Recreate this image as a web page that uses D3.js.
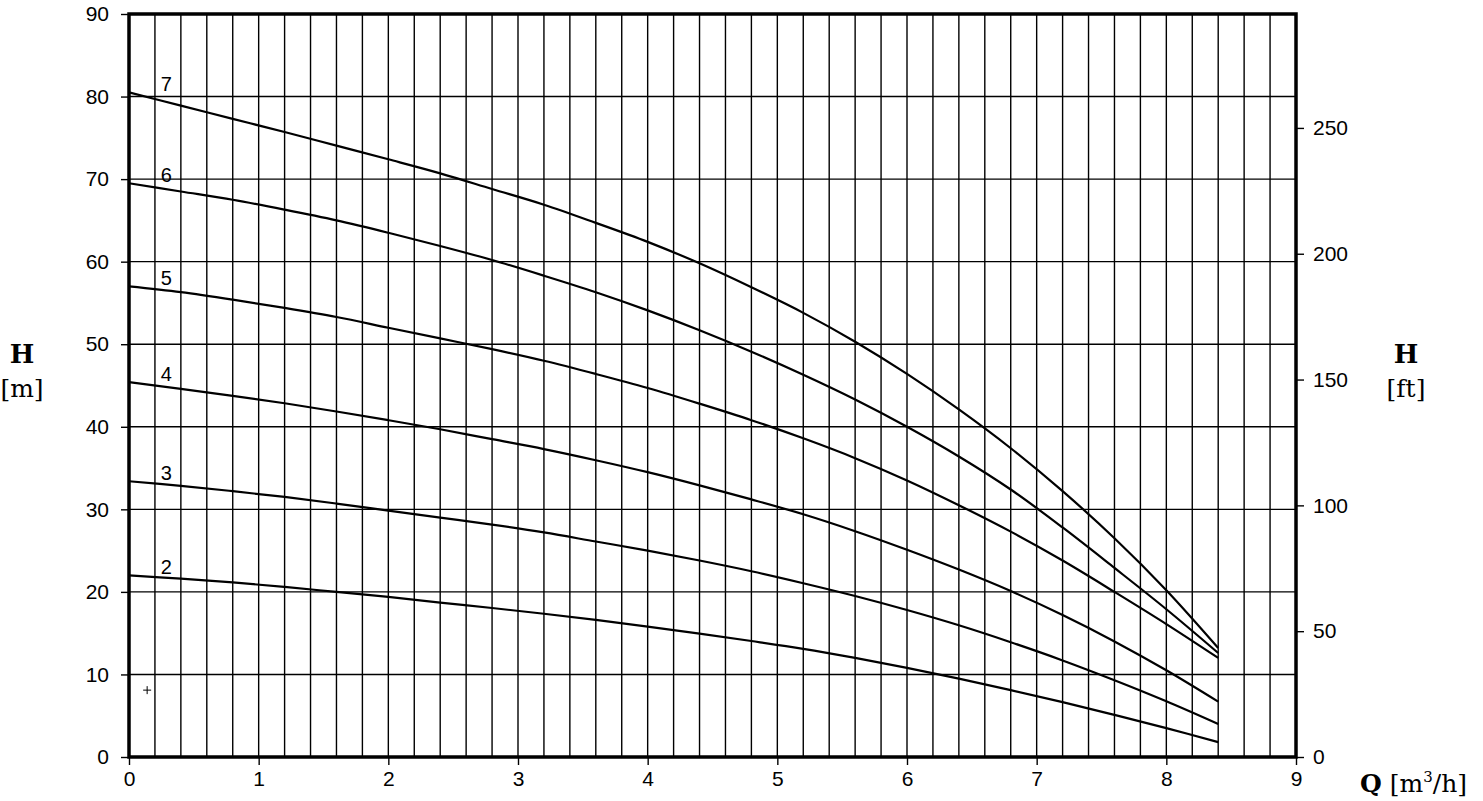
<!DOCTYPE html>
<html>
<head>
<meta charset="utf-8">
<script src="https://cdn.jsdelivr.net/npm/d3@7"></script>
<style>
  html, body { margin: 0; padding: 0; background: #fff; }
  svg { display: block; }
</style>
</head>
<body>
<svg id="chart" width="1483" height="801"></svg>
<script>
// ---- data ----
const flowQ = [0, 0.4, 0.8, 1.2, 1.6, 2.0, 2.4, 2.8, 3.2, 3.6, 4.0, 4.4, 4.8, 5.2, 5.6, 6.0, 6.4, 6.8, 7.2, 7.6, 8.0, 8.4];
const stage7 = [80.5, 78.9, 77.3, 75.7, 74.05, 72.4, 70.7, 68.8, 66.9, 64.7, 62.4, 59.8, 56.9, 53.8, 50.3, 46.4, 42.1, 37.4, 32.2, 26.5, 20.2, 13.2];
const stage6 = [69.5, 68.5, 67.5, 66.3, 65.0, 63.5, 61.9, 60.2, 58.3, 56.3, 54.1, 51.7, 49.1, 46.3, 43.3, 40.0, 36.4, 32.4, 27.8, 22.9, 17.9, 12.6];
const stage5 = [57.0, 56.3, 55.4, 54.4, 53.3, 52.0, 50.7, 49.4, 48.0, 46.4, 44.7, 42.8, 40.8, 38.6, 36.2, 33.5, 30.5, 27.3, 23.8, 20.0, 16.1, 12.0];
const stage4 = [45.4, 44.6, 43.75, 42.85, 41.85, 40.8, 39.7, 38.5, 37.3, 35.95, 34.5, 32.9, 31.2, 29.4, 27.35, 25.1, 22.7, 20.1, 17.2, 14.0, 10.5, 6.7];
const stage3 = [33.4, 32.85, 32.2, 31.5, 30.7, 29.85, 29.0, 28.15, 27.2, 26.1, 25.0, 23.8, 22.5, 21.05, 19.5, 17.8, 15.95, 13.9, 11.7, 9.3, 6.75, 4.0];
const stage2 = [22.0, 21.6, 21.15, 20.6, 20.0, 19.4, 18.7, 18.05, 17.35, 16.6, 15.8, 14.95, 14.05, 13.1, 12.0, 10.8, 9.5, 8.1, 6.65, 5.1, 3.5, 1.8];
const curveLabels = ["7", "6", "5", "4", "3", "2"];
const xTicks = [0, 1, 2, 3, 4, 5, 6, 7, 8, 9];
const yTicksM = [0, 10, 20, 30, 40, 50, 60, 70, 80, 90];
const yTicksFt = [0, 50, 100, 150, 200, 250];
const markerPoint = [0.14, 8.1];

const series = [stage7, stage6, stage5, stage4, stage3, stage2];

// ---- layout ----
const svg = d3.select("#chart");
const W = 1483, H = 801;
const m = { left: 129, top: 14, right: 187, bottom: 44 };
const x = d3.scaleLinear().domain([0, 9]).range([m.left, W - m.right]);
const y = d3.scaleLinear().domain([0, 90]).range([H - m.bottom, m.top]);
const FT = 3.28084;
const yFt = d3.scaleLinear().domain([0, 90 * FT]).range([H - m.bottom, m.top]);

const tickFont = "'Liberation Sans', Arial, sans-serif";
const titleFont = "'DejaVu Serif', 'Liberation Serif', serif";

// grid
const grid = svg.append("g").attr("stroke", "#000").attr("stroke-width", 1.4);
d3.range(1, 45).map(i => i * 0.2).forEach(v => {
  grid.append("line").attr("x1", x(v)).attr("x2", x(v)).attr("y1", y(0)).attr("y2", y(90));
});
yTicksM.slice(1, -1).forEach(v => {
  grid.append("line").attr("x1", x(0)).attr("x2", x(9)).attr("y1", y(v)).attr("y2", y(v));
});

// axes
const axisStyle = g => {
  g.select(".domain").remove();
  g.selectAll(".tick line").attr("stroke", "#000").attr("stroke-width", 1.4);
  g.selectAll(".tick text").attr("font-family", tickFont).attr("font-size", 21).attr("fill", "#000");
};
svg.append("g").attr("transform", `translate(${m.left},0)`)
  .call(d3.axisLeft(y).tickValues(yTicksM).tickSize(8).tickPadding(12).tickFormat(d3.format("d")))
  .call(axisStyle);
svg.append("g").attr("transform", `translate(${W - m.right},0)`)
  .call(d3.axisRight(yFt).tickValues(yTicksFt).tickSize(8).tickPadding(9).tickFormat(d3.format("d")))
  .call(axisStyle);
svg.append("g").attr("transform", `translate(0,${H - m.bottom})`)
  .call(d3.axisBottom(x).tickValues(xTicks).tickSize(8).tickPadding(6).tickFormat(d3.format("d")))
  .call(axisStyle);

// frame
svg.append("rect").attr("x", x(0)).attr("y", y(90)).attr("width", x(9) - x(0)).attr("height", y(0) - y(90))
  .attr("fill", "none").attr("stroke", "#000").attr("stroke-width", 3.5);

// curves
const line = d3.line().x((d, i) => x(flowQ[i])).y(d => y(d)).curve(d3.curveCatmullRom.alpha(0.5));
series.forEach((s, k) => {
  svg.append("path").attr("d", line(s)).attr("fill", "none").attr("stroke", "#000").attr("stroke-width", 2.2);
  svg.append("text").attr("x", x(0.245)).attr("y", y(s[0]) - 1)
    .attr("font-family", tickFont).attr("font-size", 20).attr("fill", "#000").text(curveLabels[k]);
});

// small cross marker
const mx = x(markerPoint[0]), my = y(markerPoint[1]);
svg.append("path").attr("d", `M${mx - 4},${my}H${mx + 4}M${mx},${my - 4}V${my + 4}`)
  .attr("stroke", "#000").attr("stroke-width", 1);

// axis titles
const t1 = svg.append("text").attr("font-family", titleFont).attr("fill", "#000").attr("text-anchor", "middle");
t1.append("tspan").attr("x", 22).attr("y", 363).attr("font-size", 26).attr("font-weight", "bold").text("H");
t1.append("tspan").attr("x", 22).attr("y", 397).attr("font-size", 25).text("[m]");

const t2 = svg.append("text").attr("font-family", titleFont).attr("fill", "#000").attr("text-anchor", "middle");
t2.append("tspan").attr("x", 1406).attr("y", 363).attr("font-size", 26).attr("font-weight", "bold").text("H");
t2.append("tspan").attr("x", 1406).attr("y", 397).attr("font-size", 25).text("[ft]");

const t3 = svg.append("text").attr("font-family", titleFont).attr("fill", "#000").attr("x", 1360).attr("y", 792).attr("font-size", 25);
t3.append("tspan").attr("font-weight", "bold").text("Q");
t3.append("tspan").text(" [m");
t3.append("tspan").attr("font-size", 15).attr("dy", -10).text("3");
t3.append("tspan").attr("dy", 10).text("/h]");
</script>
</body>
</html>
